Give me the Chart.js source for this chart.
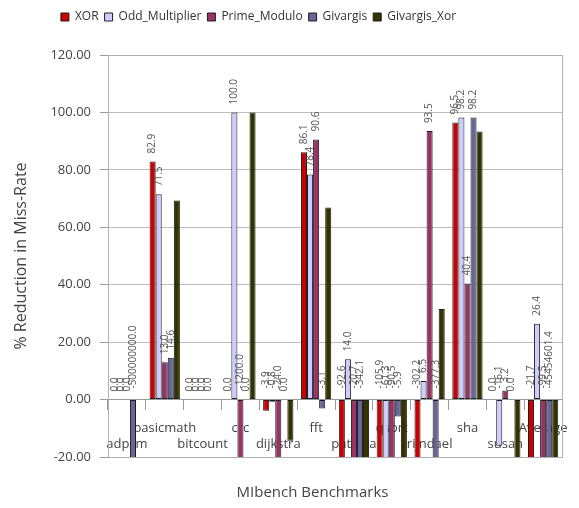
<!DOCTYPE html>
<html>
<head>
<meta charset="utf-8">
<script src="https://cdn.jsdelivr.net/npm/chart.js@4/dist/chart.umd.min.js"></script>
<style>
  html, body { margin: 0; padding: 0; background: #ffffff; }
  #wrap { width: 579px; height: 508px; }
</style>
</head>
<body>
<div id="wrap"><canvas id="chart" width="579" height="508"></canvas></div>
<script>
// MiBench cache miss-rate reduction per hashing scheme
const benchmarks = ['adpcm', 'basicmath', 'bitcount', 'crc', 'dijkstra', 'fft',
                    'patricia', 'qsort', 'rijndael', 'sha', 'susan', 'Average'];
const xorValues          = [0.0, 82.9, 0.0, 0.0, -3.9, 86.1, -92.6, -105.9, -302.2, 96.5, 0.0, -21.7];
const oddMultiplierValues = [0.0, 71.5, 0.0, 100.0, -0.8, 78.4, 14.0, -61.3, 6.5, 98.2, -16.1, 26.4];
const primeModuloValues   = [0.0, 13.0, 0.0, -1200.0, -24.0, 90.6, -20.7, -90.5, 93.5, 40.4, 3.2, -99.5];
const givargisValues      = [-500000000.0, 14.6, 0.0, 0.0, 0.0, -3.1, -342.1, -5.9, -377.3, 98.2, 0.0, -45454601.4];
const givargisXorValues   = [0.0, 69.3, 0.0, 100.0, -14.3, 66.9, -400.0, -120.0, 31.5, 93.4, -80.0, -23.0];
const yTicks = [-20, 0, 20, 40, 60, 80, 100, 120];

const FONT = '"Open Sans", "DejaVu Sans", sans-serif';
Chart.defaults.font.family = FONT;

// alternate benchmark names between two label rows
const staggeredLabels = benchmarks.map((name, i) => (i % 2 === 0 ? ['', name] : [name]));

// rotated value labels above each bar (or above the zero line for negatives)
const valueLabels = {
  id: 'valueLabels',
  afterDatasetsDraw(chart) {
    const ctx = chart.ctx;
    const zeroY = chart.scales.y.getPixelForValue(0);
    ctx.save();
    ctx.font = '10px ' + FONT;
    ctx.fillStyle = '#555555';
    ctx.textAlign = 'left';
    ctx.textBaseline = 'middle';
    chart.data.datasets.forEach((ds, di) => {
      if (!ds.showValues) return;
      const meta = chart.getDatasetMeta(di);
      meta.data.forEach((bar, i) => {
        const v = ds.data[i];
        const anchorY = v > 0 ? bar.y - 8 : zeroY - (v < 0 ? 11 : 8);
        ctx.save();
        ctx.translate(bar.x, anchorY);
        ctx.rotate(-Math.PI / 2);
        ctx.fillText(v.toFixed(1), 0, 0);
        ctx.restore();
      });
    });
    ctx.restore();
  }
};

// plot-area frame
const plotFrame = {
  id: 'plotFrame',
  beforeDatasetsDraw(chart) {
    const {ctx, chartArea: a} = chart;
    ctx.save();
    ctx.strokeStyle = '#b0b0b0';
    ctx.lineWidth = 1;
    ctx.strokeRect(Math.round(a.left) + 0.5, Math.round(a.top) + 0.5,
                   Math.round(a.width), Math.round(a.height));
    ctx.restore();
  }
};

// horizontal placement of legend and bottom title
const legendShift = -30;
const titleShift = 24;
const boxShift = {
  id: 'boxShift',
  afterLayout(chart) {
    if (chart.legend) { chart.legend.left += legendShift; chart.legend.right += legendShift; }
    if (chart.titleBlock) { chart.titleBlock.left += titleShift; chart.titleBlock.right += titleShift; }
  }
};

const barStyle = { borderColor: '#1e1e1e', borderWidth: 1, borderSkipped: false,
                   categoryPercentage: 0.8, barPercentage: 1.0 };

new Chart(document.getElementById('chart'), {
  type: 'bar',
  data: {
    labels: staggeredLabels,
    datasets: [
      { label: 'XOR', data: xorValues, backgroundColor: '#CC0000', showValues: true, ...barStyle },
      { label: 'Odd_Multiplier', data: oddMultiplierValues, backgroundColor: '#CCCCFF', showValues: true, ...barStyle },
      { label: 'Prime_Modulo', data: primeModuloValues, backgroundColor: '#993366', showValues: true, ...barStyle },
      { label: 'Givargis', data: givargisValues, backgroundColor: '#666699', showValues: true, ...barStyle },
      { label: 'Givargis_Xor', data: givargisXorValues, backgroundColor: '#333300', showValues: false, ...barStyle }
    ]
  },
  options: {
    responsive: false,
    animation: false,
    layout: { padding: { left: 8, right: 10, top: 5, bottom: 0 } },
    plugins: {
      legend: {
        position: 'top',
        labels: { boxWidth: 8, boxHeight: 8, padding: 6, color: '#333333',
                  font: { size: 12, family: FONT } }
      },
      subtitle: {
        display: true, text: ' ', position: 'top', weight: 500,
        padding: 0, font: { size: 10, lineHeight: '22px' }
      },
      title: {
        display: true, text: 'MIbench Benchmarks', position: 'bottom',
        color: '#444444', font: { size: 15, weight: 'normal', family: FONT },
        padding: { top: 27, bottom: 6 }
      },
      tooltip: { enabled: false }
    },
    scales: {
      x: {
        type: 'category',
        position: { y: 0 },
        offset: true,
        grid: { display: true, drawOnChartArea: false, drawTicks: true, tickLength: 10,
                color: '#999999', offset: true },
        border: { display: true, color: '#999999' },
        ticks: { autoSkip: false, maxRotation: 0, minRotation: 0, padding: 11,
                 color: '#444444', font: { size: 13, family: FONT } }
      },
      y: {
        min: yTicks[0],
        max: yTicks[yTicks.length - 1],
        afterFit(scale) { scale.width = 100; },
        ticks: { stepSize: yTicks[1] - yTicks[0], padding: 9, color: '#444444',
                 font: { size: 13, family: FONT },
                 callback: (v) => Number(v).toFixed(2) },
        grid: { color: '#bdbdbd', tickColor: '#999999', tickLength: 8, drawTicks: true },
        border: { display: true, color: '#999999' },
        title: { display: true, text: '% Reduction in Miss-Rate', color: '#444444',
                 font: { size: 16, family: FONT } }
      }
    }
  },
  plugins: [plotFrame, valueLabels, boxShift]
});
</script>
</body>
</html>
